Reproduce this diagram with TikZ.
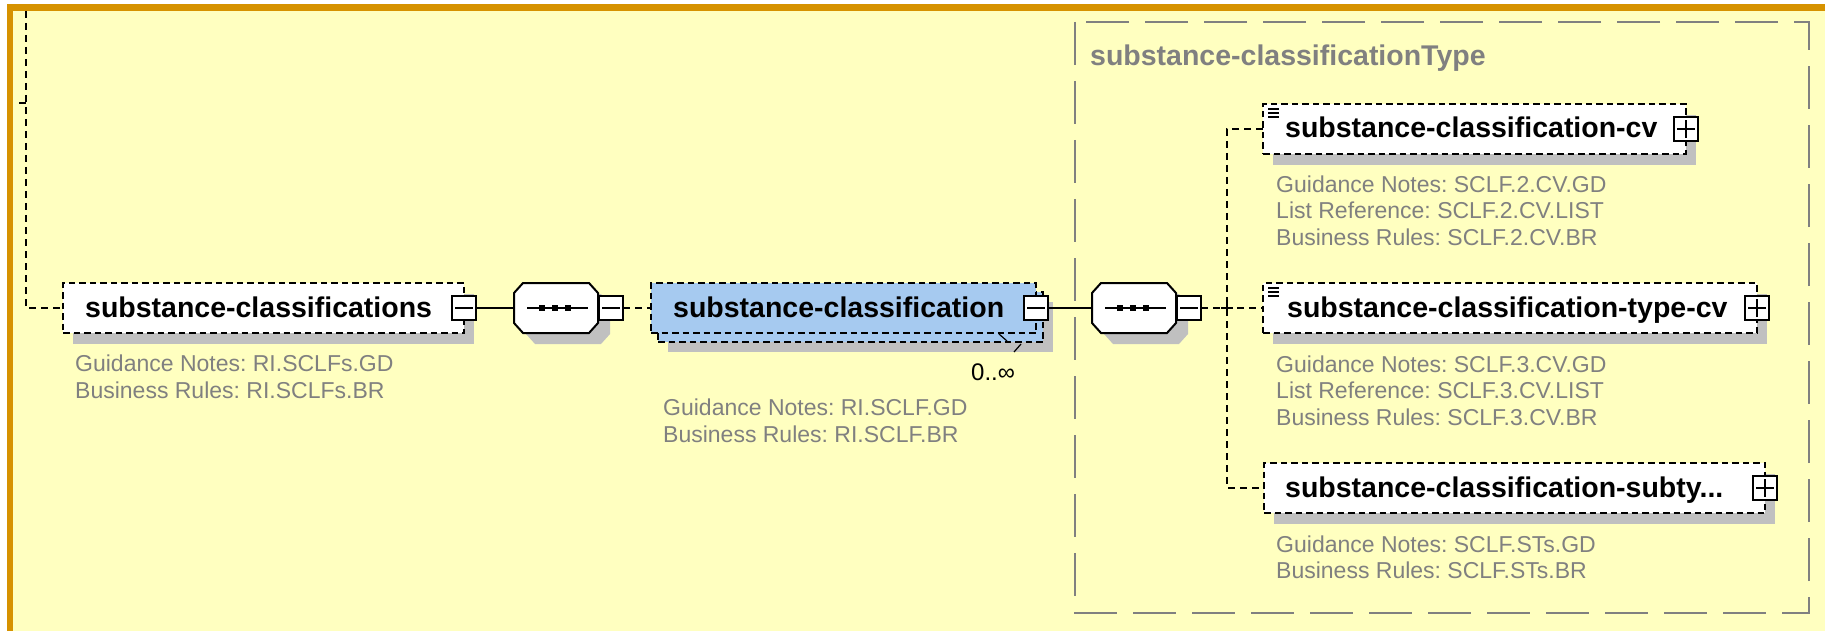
\documentclass[tikz,border=0pt]{standalone}
\usepackage{fontspec}
\setmainfont{Liberation Sans}
\definecolor{bgyellow}{RGB}{255,255,192}
\definecolor{brdorange}{RGB}{214,146,0}
\definecolor{shadowgray}{RGB}{192,192,192}
\definecolor{elemblue}{RGB}{166,202,240}
\definecolor{notegray}{RGB}{128,128,128}
\frenchspacing
\begin{document}
\begin{tikzpicture}[x=1pt,y=-1pt,
 elem/.style={draw=black,line width=2pt,dash pattern=on 6.5pt off 4pt,fill=white,minimum height=50pt,inner sep=0pt,outer sep=0pt,anchor=north west},
 ttl/.style={font=\bfseries\fontsize{28.5}{32}\selectfont,anchor=base west,inner sep=0pt},
 frttl/.style={ttl,text=notegray},
 note/.style={font=\fontsize{23}{26.7}\selectfont,text=notegray,anchor=base west,inner sep=0pt,align=left},
 card/.style={font=\fontsize{24}{26}\selectfont,anchor=base west,inner sep=0pt},
 pmbox/.style={draw=black,line width=2pt,fill=white,minimum size=24pt,inner sep=0pt,outer sep=0pt},
 minusbox/.style={pmbox,path picture={\draw[line width=1.8pt] ([xshift=-9pt]path picture bounding box.center) -- ([xshift=9pt]path picture bounding box.center);}},
 plusbox/.style={pmbox,path picture={\draw[line width=1.8pt] ([xshift=-9pt]path picture bounding box.center) -- ([xshift=9pt]path picture bounding box.center) ([yshift=-9pt]path picture bounding box.center) -- ([yshift=9pt]path picture bounding box.center);}},
 conn/.style={line width=2pt,dash pattern=on 7pt off 5pt},
 link/.style={line width=2pt},
 framebox/.style={draw=notegray,line width=2pt,dash pattern=on 43pt off 16pt},
 octo/.pic={
  \fill[shadowgray] (-21,-14) -- (45,-14) -- (54,-4) -- (54,26) -- (45,36) -- (-21,36) -- (-30,26) -- (-30,-4) -- cycle;
  \draw[line width=2pt,fill=white] (-33,-25) -- (33,-25) -- (42,-15) -- (42,15) -- (33,25) -- (-33,25) -- (-42,15) -- (-42,-15) -- cycle;
  \draw[line width=2.2pt] (-29,0) -- (32,0);
  \foreach \d in {-14,-1,12} \fill (\d-3,-3) rectangle (\d+3,3);
  \coordinate (-w) at (-42,0);
  \coordinate (-e) at (42,0);
 }
]
\useasboundingbox (0,0) rectangle (1825,631);
\fill[white] (0,0) rectangle (1825,631);
\fill[bgyellow] (7,4) rectangle (1825,631);
\fill[brdorange] (7,4) rectangle (1825,11);
\fill[brdorange] (7,4) rectangle (13,631);

% type frame
\draw[framebox] (1075,22) rectangle (1809,613);
\node[frttl] (frt) at (1090,66) {substance-classificationType};

% element 1
\fill[shadowgray] (73,294) rectangle (474,344);
\node[elem,minimum width=401pt] (b1) at (63,283) {};
\node[ttl] (b1t) at (85,317) {substance-classifications};
\node[note] (b1n) at (75,398) {Guidance Notes: RI.SCLFs.GD\\Business Rules: RI.SCLFs.BR};

% sequence 1
\pic (o1) at (556,308) {octo};

% element 2 (repeated)
\fill[shadowgray] (668,302) rectangle (1053,352);
\node[elem,fill=elemblue,minimum width=385pt] (b2back) at (658,292) {};
\node[elem,fill=elemblue,minimum width=385pt] (b2) at (651,283) {};
\node[ttl] (b2t) at (673,317) {substance-classification};
\draw[line width=1.2pt] (999,334) -- (1007,341) (1014,352) -- (1021,344);
\node[card] (b2c) at (971,380) {0..∞};
\node[note] (b2n) at (663,442) {Guidance Notes: RI.SCLF.GD\\Business Rules: RI.SCLF.BR};

% sequence 2
\pic (o2) at (1134,308) {octo};

% element 3
\fill[shadowgray] (1273,115) rectangle (1696,165);
\node[elem,minimum width=423pt] (b3) at (1263,104) {};
\draw[line width=1.2pt] (1268,109) -- ++(11,0) (1268,113) -- ++(11,0) (1268,117) -- ++(11,0);
\node[ttl] (b3t) at (1285,138) {substance-classification-cv};
\node[note] (b3n) at (1276,245.4) {Guidance Notes: SCLF.2.CV.GD\\List Reference: SCLF.2.CV.LIST\\Business Rules: SCLF.2.CV.BR};

% element 4
\fill[shadowgray] (1273,294) rectangle (1767,344);
\node[elem,minimum width=494pt] (b4) at (1263,283) {};
\draw[line width=1.2pt] (1268,288) -- ++(11,0) (1268,292) -- ++(11,0) (1268,296) -- ++(11,0);
\node[ttl] (b4t) at (1287,317) {substance-classification-type-cv};
\node[note] (b4n) at (1276,425.4) {Guidance Notes: SCLF.3.CV.GD\\List Reference: SCLF.3.CV.LIST\\Business Rules: SCLF.3.CV.BR};

% element 5
\fill[shadowgray] (1274,474) rectangle (1775,524);
\node[elem,minimum width=501pt] (b5) at (1264,463) {};
\node[ttl] (b5t) at (1285,497) {substance-classification-subty...};
\node[note] (b5n) at (1276,578.7) {Guidance Notes: SCLF.STs.GD\\Business Rules: SCLF.STs.BR};

% expand / collapse boxes
\node[minusbox] (b1m) at (464,308) {};
\node[minusbox] (o1m) at (611,308) {};
\node[minusbox] (b2m) at (1036,308) {};
\node[minusbox] (o2m) at (1189,308) {};
\node[plusbox] (b3p) at (1686,129) {};
\node[plusbox] (b4p) at (1757,308) {};
\node[plusbox] (b5p) at (1765,488) {};

% connectors
\coordinate (topin) at (26,11);
\coordinate (tick) at (19,103);
\draw[conn] (topin) |- (b1.west);
\draw[link] (tick) -- ++(7,0);
\draw[link] (b1m.east) -- (o1-w);
\draw[conn] (o1m.east) -- (b2.west);
\draw[link] (b2m.east) -- (o2-w);
\draw[conn] (o2m.east) -- (b4.west);
\coordinate (bus) at (1227,308);
\draw[conn] (b3.west) -| (bus) |- (b5.west);
\draw[link] ([xshift=-6pt]bus) -- ([xshift=6pt]bus) ([yshift=-6pt]bus) -- ([yshift=6pt]bus);
\end{tikzpicture}
\end{document}
